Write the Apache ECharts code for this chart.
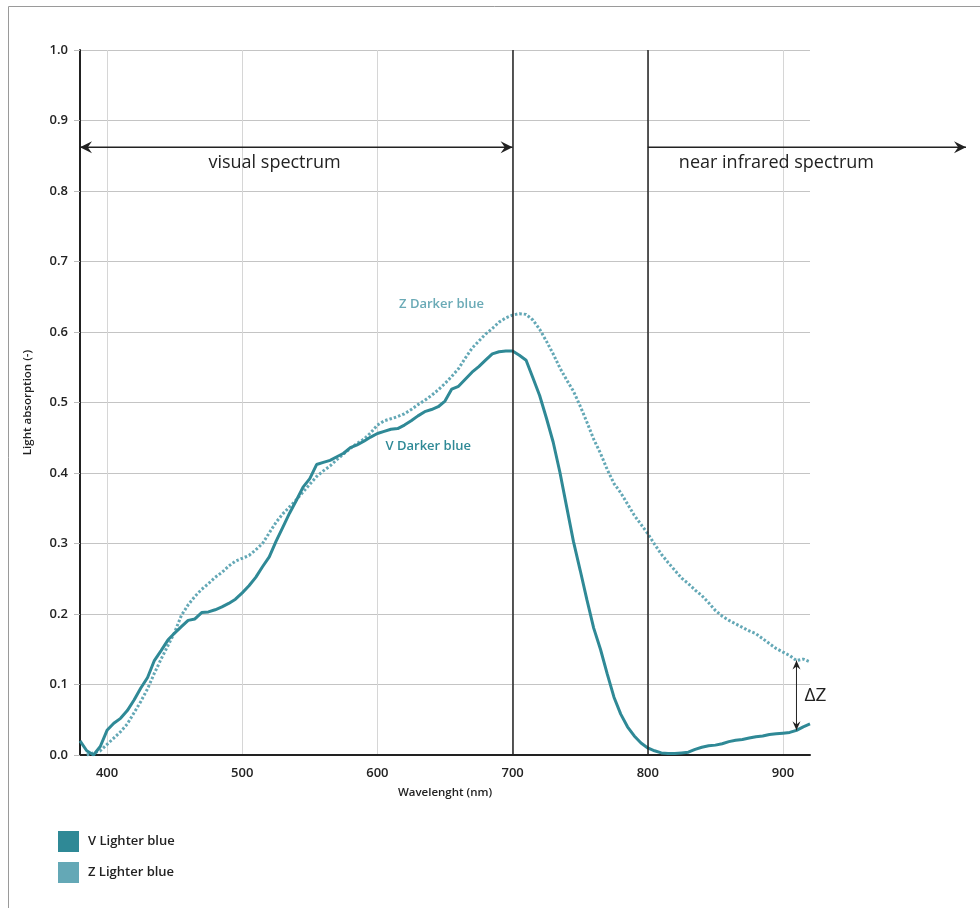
<!DOCTYPE html>
<html>
<head>
<meta charset="utf-8">
<script src="https://cdn.jsdelivr.net/npm/echarts@6/dist/echarts.min.js"></script>
<style>
  html, body { margin: 0; padding: 0; background: #fff; }
  #chart { width: 980px; height: 908px; }
</style>
</head>
<body>
<div id="chart"></div>
<script>
// wavelengths (nm) and light absorption
var wavelengthV = [380, 385, 390, 395, 400, 405, 410, 415, 420, 425, 430, 435, 440, 445, 450, 455, 460, 465, 470, 475,
    480, 485, 490, 495, 500, 505, 510, 515, 520, 525, 530, 535, 540, 545, 550, 555, 560, 565, 570, 575,
    580, 585, 590, 595, 600, 605, 610, 615, 620, 625, 630, 635, 640, 645, 650, 655, 660, 665, 670, 675,
    680, 685, 690, 695, 700, 705, 710, 715, 720, 725, 730, 735, 740, 745, 750, 755, 760, 765, 770, 775,
    780, 785, 790, 795, 800, 805, 810, 815, 820, 825, 830, 835, 840, 845, 850, 855, 860, 865, 870, 875,
    880, 885, 890, 895, 900, 905, 910, 915, 920];
var valuesV = [0.020, 0.006, 0.000, 0.012, 0.035, 0.045, 0.052, 0.063, 0.078, 0.095, 0.110, 0.134, 0.148, 0.163, 0.173, 0.182, 0.191, 0.193, 0.202, 0.203,
    0.206, 0.210, 0.215, 0.221, 0.230, 0.240, 0.252, 0.267, 0.281, 0.303, 0.323, 0.343, 0.361, 0.380, 0.392, 0.412, 0.415, 0.418, 0.423, 0.428,
    0.436, 0.440, 0.445, 0.451, 0.456, 0.459, 0.462, 0.463, 0.468, 0.474, 0.481, 0.487, 0.490, 0.494, 0.502, 0.519, 0.523, 0.533, 0.543, 0.551,
    0.560, 0.569, 0.572, 0.573, 0.573, 0.567, 0.560, 0.535, 0.510, 0.478, 0.444, 0.401, 0.352, 0.303, 0.262, 0.220, 0.180, 0.150, 0.115, 0.082,
    0.058, 0.040, 0.027, 0.017, 0.010, 0.006, 0.003, 0.002, 0.002, 0.003, 0.004, 0.008, 0.011, 0.013, 0.014, 0.016, 0.019, 0.021, 0.022, 0.024,
    0.026, 0.027, 0.029, 0.030, 0.031, 0.032, 0.035, 0.040, 0.044];

var wavelengthZ = [385, 390, 395, 400, 405, 410, 415, 420, 425, 430, 435, 440, 445, 450, 455, 460, 465, 470, 475,
    480, 485, 490, 495, 500, 505, 510, 515, 520, 525, 530, 535, 540, 545, 550, 555, 560, 565, 570, 575,
    580, 585, 590, 595, 600, 605, 610, 615, 620, 625, 630, 635, 640, 645, 650, 655, 660, 665, 670, 675,
    680, 685, 690, 695, 700, 705, 710, 715, 720, 725, 730, 735, 740, 745, 750, 755, 760, 765, 770, 775,
    780, 785, 790, 795, 800, 805, 810, 815, 820, 825, 830, 835, 840, 845, 850, 855, 860, 865, 870, 875,
    880, 885, 890, 895, 900, 905, 910, 915, 920];
var valuesZ = [0.000, 0.003, 0.006, 0.015, 0.024, 0.033, 0.044, 0.060, 0.076, 0.094, 0.116, 0.136, 0.155, 0.174, 0.198, 0.213, 0.225, 0.235, 0.243,
    0.252, 0.259, 0.268, 0.275, 0.279, 0.283, 0.291, 0.300, 0.315, 0.330, 0.342, 0.352, 0.362, 0.373, 0.384, 0.395, 0.403, 0.410, 0.419, 0.427,
    0.435, 0.442, 0.448, 0.457, 0.468, 0.474, 0.477, 0.480, 0.484, 0.490, 0.497, 0.503, 0.510, 0.518, 0.527, 0.537, 0.548, 0.563, 0.577, 0.587,
    0.597, 0.605, 0.614, 0.620, 0.624, 0.626, 0.625, 0.617, 0.604, 0.587, 0.569, 0.549, 0.532, 0.516, 0.495, 0.472, 0.448, 0.428, 0.405, 0.385,
    0.372, 0.356, 0.340, 0.327, 0.314, 0.299, 0.285, 0.273, 0.262, 0.251, 0.243, 0.234, 0.226, 0.216, 0.205, 0.197, 0.191, 0.186, 0.181, 0.176,
    0.172, 0.165, 0.158, 0.151, 0.146, 0.141, 0.134, 0.136, 0.132];

var xTicks = [400, 500, 600, 700, 800, 900];
var spectrumBounds = [700, 800];
var deltaAt = 910;

var colorV = '#2f8996';
var colorZ = '#64a8b6';
var font = "'Open Sans', 'Noto Sans', sans-serif";

function zip(xs, ys) {
    var out = [];
    for (var i = 0; i < xs.length; i++) out.push([xs[i], ys[i]]);
    return out;
}

var myChart = echarts.init(document.getElementById('chart'));
var option = {
    animation: false,
    grid: { left: 80, right: 170, top: 50, bottom: 153 },
    legend: {
        orient: 'vertical',
        left: 58, top: 831,
        padding: 0,
        icon: 'rect',
        itemWidth: 21, itemHeight: 21, itemGap: 10,
        itemStyle: { borderWidth: 0 },
        textStyle: { fontFamily: font, fontSize: 13, fontWeight: 600, color: '#222', padding: [0, 0, 0, 4] },
        data: ['V Lighter blue', 'Z Lighter blue']
    },
    xAxis: {
        type: 'value',
        min: 380, max: 920,
        name: 'Wavelenght (nm)',
        nameLocation: 'middle',
        nameGap: 32,
        nameTextStyle: { fontFamily: font, fontSize: 11.5, fontWeight: 600, color: '#222' },
        axisLine: { lineStyle: { color: '#222', width: 2 } },
        axisTick: { show: false, customValues: xTicks },
        axisLabel: { customValues: xTicks, margin: 12, fontFamily: font, fontSize: 13, fontWeight: 600, color: '#222' },
        splitLine: { show: true, lineStyle: { color: '#d6d6d6', width: 1 } }
    },
    yAxis: {
        type: 'value',
        min: 0, max: 1, interval: 0.1,
        name: 'Light absorption (-)',
        nameLocation: 'middle',
        nameGap: 46,
        nameTextStyle: { fontFamily: font, fontSize: 11.5, fontWeight: 600, color: '#222' },
        axisLine: { show: true, lineStyle: { color: '#222', width: 2 } },
        axisTick: { show: true, length: 6, lineStyle: { color: '#bbb' } },
        axisLabel: {
            margin: 12, fontFamily: font, fontSize: 13, fontWeight: 600, color: '#222',
            formatter: function (v) { return v.toFixed(1); }
        },
        splitLine: { show: true, lineStyle: { color: '#c4c4c4', width: 1 } }
    },
    series: [
        {
            name: 'V Lighter blue',
            type: 'line',
            data: zip(wavelengthV, valuesV),
            showSymbol: false,
            color: colorV,
            lineStyle: { color: colorV, width: 3 },
            z: 3,
            markLine: {
                silent: true,
                symbol: 'none',
                label: { show: false },
                lineStyle: { color: '#222', width: 1.5, type: 'solid' },
                data: spectrumBounds.map(function (b) { return { xAxis: b }; })
            }
        },
        {
            name: 'Z Lighter blue',
            type: 'line',
            data: zip(wavelengthZ, valuesZ),
            showSymbol: false,
            color: colorZ,
            lineStyle: { color: colorZ, width: 3, type: [2.5, 2] },
            z: 2
        }
    ]
};
myChart.setOption(option);

// annotations placed through the axes
function px(x, y) { return myChart.convertToPixel({ gridIndex: 0 }, [x, y]); }
function head(tip, dir, len, half) {
    var x = tip[0], y = tip[1];
    if (dir === 'left') return [[x, y], [x + len, y - half], [x + len * 0.65, y], [x + len, y + half]];
    if (dir === 'right') return [[x, y], [x - len, y - half], [x - len * 0.65, y], [x - len, y + half]];
    if (dir === 'up') return [[x, y], [x - half, y + len], [x, y + len * 0.65], [x + half, y + len]];
    return [[x, y], [x - half, y - len], [x, y - len * 0.65], [x + half, y - len]];
}
function line(a, b, w) {
    return { type: 'line', shape: { x1: a[0], y1: a[1], x2: b[0], y2: b[1] }, style: { stroke: '#222', lineWidth: w }, z: 10 };
}
function poly(pts) {
    return { type: 'polygon', shape: { points: pts }, style: { fill: '#222' }, z: 10 };
}
function text(p, str, size, color, weight) {
    return {
        type: 'text', x: p[0], y: p[1], z: 10,
        style: { text: str, fontFamily: font, fontSize: size, fontWeight: weight || 'normal', fill: color, align: 'left', verticalAlign: 'middle' }
    };
}

var arrowLevel = 0.862;
var visA = px(380, arrowLevel), visB = px(spectrumBounds[0], arrowLevel);
var nirA = px(spectrumBounds[1], arrowLevel);
var nirB = [myChart.getWidth() - 14, nirA[1]];
var dzTop = px(deltaAt, valuesZ[wavelengthZ.indexOf(deltaAt)]);
var dzBot = px(deltaAt, valuesV[wavelengthV.indexOf(deltaAt)]);

var graphics = [
    { type: 'rect', shape: { x: 8.5, y: 6.5, width: 1000, height: 1000 }, style: { fill: 'none', stroke: '#9a9a9a', lineWidth: 1 }, z: 0 },
    line(visA, visB, 1.5), poly(head(visA, 'left', 12, 6)), poly(head(visB, 'right', 12, 6)),
    line(nirA, nirB, 1.5), poly(head(nirB, 'right', 12, 6)),
    line(dzTop, dzBot, 1), poly(head(dzTop, 'up', 9, 4)), poly(head(dzBot, 'down', 9, 4)),
    text([dzTop[0] + 8, (dzTop[1] + dzBot[1]) / 2], 'ΔZ', 19, '#222'),
    text(px(475, 0.84), 'visual spectrum', 18, '#222'),
    text(px(823, 0.84), 'near infrared spectrum', 18, '#222'),
    text(px(616, 0.64), 'Z Darker blue', 13, '#6aaab6', 600),
    text(px(606, 0.438), 'V Darker blue', 13, colorV, 600)
];
myChart.setOption({ graphic: graphics });
</script>
</body>
</html>
